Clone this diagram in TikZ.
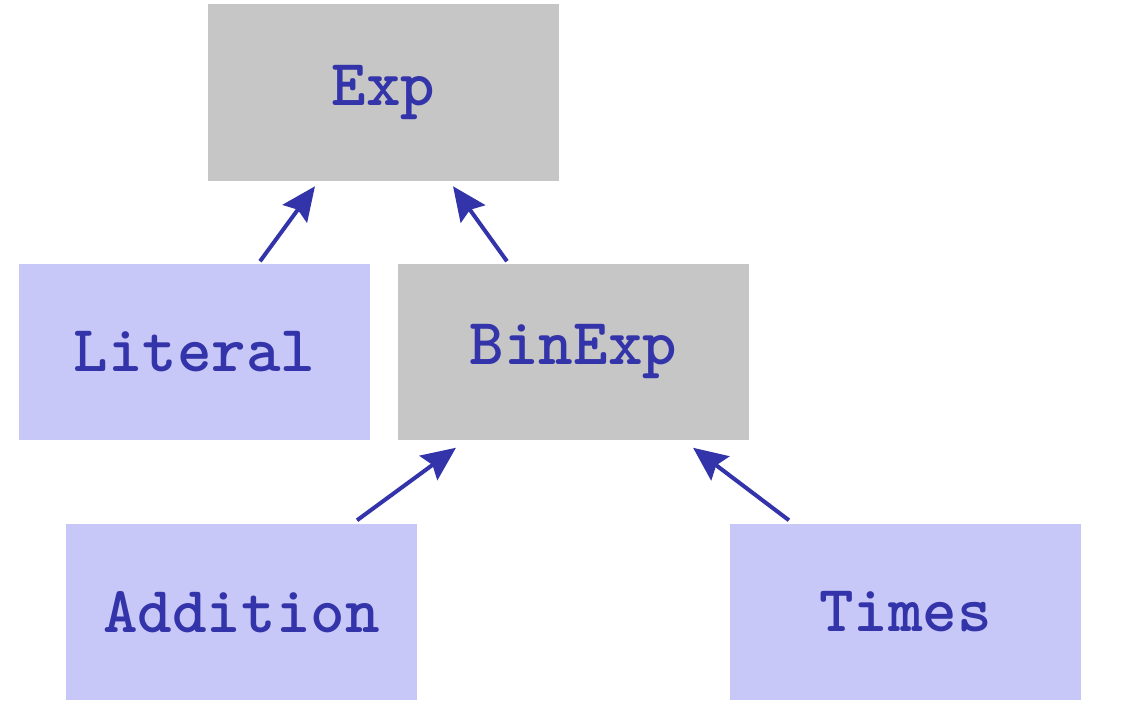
\documentclass[tikz,border=0pt]{standalone}
\usepackage{fontspec}
\usetikzlibrary{arrows.meta}
\definecolor{boxgray}{RGB}{198,198,198}
\definecolor{boxblue}{RGB}{200,200,248}
\definecolor{ink}{RGB}{51,51,170}
\tikzset{
  cls/.style={rectangle, inner sep=0pt, minimum width=3.51cm, minimum height=1.76cm,
    text=ink, font=\fontsize{18.7}{20}\selectfont\ttfamily\bfseries},
  abstr/.style={cls, fill=boxgray},
  concr/.style={cls, fill=boxblue},
  inh/.style={draw=ink, line width=0.04cm, -{Stealth[length=0.34cm,width=0.3cm,inset=0.05cm]}}
}
\begin{document}
\begin{tikzpicture}[x=0.01cm,y=-0.01cm]
\useasboundingbox (0,0) rectangle (1144,708);
\node[abstr] (exp) at (383.5,92.5) {Exp};
\node[concr] (lit) at (194.5,352) {Literal};
\node[abstr] (bin) at (573.5,352) {BinExp};
\node[concr] (add) at (241.5,612) {Addition};
\node[concr] (tim) at (905.5,612) {Times};
\draw[inh] ([xshift=0.655cm,yshift=0.02cm]lit.north) -- ([xshift=-0.685cm,yshift=-0.05cm]exp.south);
\draw[inh] ([xshift=-0.665cm,yshift=0.02cm]bin.north) -- ([xshift=0.695cm,yshift=-0.05cm]exp.south);
\draw[inh] ([xshift=1.155cm,yshift=0.03cm]add.north) -- ([xshift=-1.175cm,yshift=-0.07cm]bin.south);
\draw[inh] ([xshift=-1.165cm,yshift=0.03cm]tim.north) -- ([xshift=1.195cm,yshift=-0.07cm]bin.south);
\end{tikzpicture}
\end{document}
